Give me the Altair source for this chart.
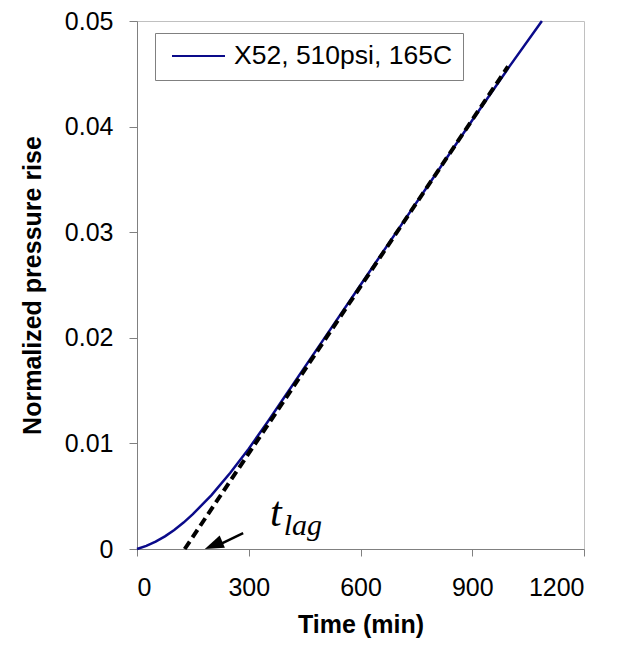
import altair as alt
import pandas as pd

# ---- data ----
time_min = [0, 25, 50, 75, 100, 125, 150, 175, 200, 250, 300, 350, 400, 500,
            600, 700, 800, 900, 1000, 1087]
pressure = [0, 0.0003, 0.0007, 0.0012, 0.0018, 0.0025, 0.0033, 0.0042, 0.0051,
            0.0072, 0.0095, 0.0120, 0.0146, 0.0198, 0.0250, 0.0302, 0.0354,
            0.0406, 0.0457, 0.0500]
series_name = "X52, 510psi, 165C"

tangent_time = [128, 996]
tangent_pressure = [0, 0.0457]

x_ticks = [0, 300, 600, 900, 1200]
y_ticks = [0, 0.01, 0.02, 0.03, 0.04, 0.05]

# annotation (t_lag label and arrow), in data units
t_label_pos = [357, 0.00217]
lag_label_pos = [394, 0.00132]
arrow_shaft_time = [285, 214]
arrow_shaft_value = [0.00151, 0.00030]
arrow_tip = [182, 0.0]

curve_df = pd.DataFrame({"time": time_min, "value": pressure,
                         "series": [series_name] * len(time_min)})
tangent_df = pd.DataFrame({"time": tangent_time, "value": tangent_pressure})
shaft_df = pd.DataFrame({"time": arrow_shaft_time, "value": arrow_shaft_value})
tip_df = pd.DataFrame({"time": [arrow_tip[0]], "value": [arrow_tip[1]]})
t_df = pd.DataFrame({"time": [t_label_pos[0]], "value": [t_label_pos[1]], "txt": ["t"]})
lag_df = pd.DataFrame({"time": [lag_label_pos[0]], "value": [lag_label_pos[1]], "txt": ["lag"]})

X = alt.X("time:Q",
          scale=alt.Scale(domain=[0, 1200], nice=False, zero=False),
          axis=alt.Axis(values=x_ticks, title="Time (min)", grid=False,
                        format="d",
                        tickSize=7, labelPadding=39, labelBaseline="alphabetic",
                        titleY=83, titleBaseline="alphabetic"))
Y = alt.Y("value:Q",
          scale=alt.Scale(domain=[0, 0.05], nice=False),
          axis=alt.Axis(values=y_ticks, title="Normalized pressure rise",
                        grid=False, format="~g", tickSize=8, labelPadding=16,
                        titleX=-105, titleY=264, titleBaseline="middle"))

curve = alt.Chart(curve_df).mark_line(strokeWidth=2.5).encode(
    x=X, y=Y,
    color=alt.Color("series:N", scale=alt.Scale(range=["#0a0a8a"]),
                    legend=alt.Legend(title=None, orient="none", legendX=18,
                                      legendY=12, symbolType="stroke",
                                      symbolSize=2809, symbolStrokeWidth=2,
                                      clipHeight=26,
                                      labelOffset=8, padding=10,
                                      symbolOffset=6,
                                      strokeColor="#808080",
                                      fillColor="white",
                                      labelFontSize=26.5,
                                      labelFont="Liberation Sans",
                                      labelColor="black",
                                      labelLimit=400)))

tangent = alt.Chart(tangent_df).mark_line(
    color="black", strokeWidth=4, strokeDash=[9, 5]).encode(x=X, y=Y)

shaft = alt.Chart(shaft_df).mark_line(color="black", strokeWidth=2.5).encode(x=X, y=Y)

tip = alt.Chart(tip_df).mark_point(
    shape="M0,0 L1,-0.35 L1,0.35 Z", filled=True, size=1444, angle=337,
    color="black", opacity=1).encode(x=X, y=Y)

t_text = alt.Chart(t_df).mark_text(
    align="left", baseline="alphabetic", font="Liberation Serif",
    fontStyle="italic", fontSize=42, color="black").encode(x=X, y=Y, text="txt:N")

lag_text = alt.Chart(lag_df).mark_text(
    align="left", baseline="alphabetic", font="Liberation Serif",
    fontStyle="italic", fontSize=30, color="black").encode(x=X, y=Y, text="txt:N")

chart = alt.layer(curve, tangent, shaft, tip, t_text, lag_text).properties(
    width=447, height=528,
    autosize=alt.AutoSizeParams(type="none"),
    padding={"left": 129, "top": 13, "right": 30, "bottom": 89},
).configure_view(
    stroke="#c0c0c0", strokeWidth=1
).configure_axis(
    domainColor="#808080", tickColor="#808080",
    labelFont="Liberation Sans", labelFontSize=25, labelColor="black",
    titleFont="Liberation Sans", titleFontSize=25, titleFontWeight="bold",
    titleColor="black",
)

chart.save("out.html", embed_options={"renderer": "svg", "actions": False})
